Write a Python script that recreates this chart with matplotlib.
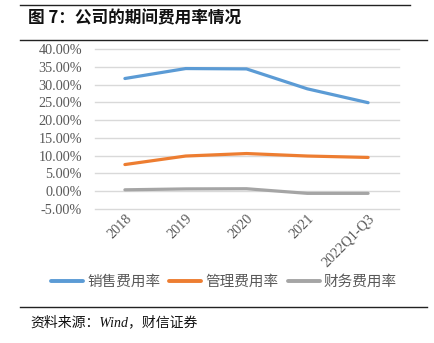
import matplotlib
matplotlib.use("Agg")
import matplotlib.pyplot as plt
from matplotlib.lines import Line2D

categories = ["2018", "2019", "2020", "2021", "2022Q1-Q3"]
sales_rate = [31.7, 34.5, 34.4, 28.8, 24.9]
admin_rate = [7.5, 9.9, 10.6, 9.9, 9.5]
fin_rate = [0.4, 0.65, 0.7, -0.6, -0.6]
series_names = ["销售费用率", "管理费用率", "财务费用率"]
yticks = [-5, 0, 5, 10, 15, 20, 25, 30, 35, 40]
title = "图 7：公司的期间费用率情况"
source = "资料来源：Wind，财信证券"

colors = ["#5B9BD5", "#ED7D31", "#A5A5A5"]
CJK = ["Noto Sans CJK SC", "DejaVu Sans"]

W, H = 434, 343
fig = plt.figure(figsize=(W / 100, H / 100), dpi=100)
fig.patch.set_facecolor("white")

def fx(px):
    return px / W

def fy(py):
    return 1 - py / H

# header lines
fig.add_artist(Line2D([fx(20), fx(410)], [fy(4.5), fy(4.5)], color="#222222", lw=1.0))
fig.add_artist(Line2D([fx(20), fx(427)], [fy(40), fy(40)], color="#222222", lw=1.0))
fig.add_artist(Line2D([fx(20), fx(427)], [fy(307), fy(307)], color="#222222", lw=1.0))

fig.text(fx(28), fy(18), title, family=CJK, fontsize=12, fontweight="bold",
         va="center", ha="left", color="#111111")
fig.text(fx(30), fy(322), source, family=["Liberation Serif", "Noto Sans CJK SC"],
         style="italic", fontsize=10, va="center", ha="left", color="#111111")

left, right, top, bottom = 94.5, 398.5, 49, 209
ax = fig.add_axes([fx(left), fy(bottom), (right - left) / W, (bottom - top) / H])
x = list(range(len(categories)))
for vals, c, name in zip([sales_rate, admin_rate, fin_rate], colors, series_names):
    ax.plot(x, vals, color=c, lw=2.3, solid_capstyle="round", label=name, zorder=3)

ax.set_xlim(-0.5, len(categories) - 0.5)
ax.set_ylim(-5, 40)
ax.set_yticks(yticks)
ax.set_yticklabels([f"{v:.2f}%" for v in yticks], family="Liberation Serif",
                   fontsize=10.3, color="#595959")
ax.set_xticks(x)
ax.set_xticklabels(categories, family="Liberation Serif", fontsize=10.3,
                   color="#595959", rotation=45, ha="right", rotation_mode="anchor")
ax.tick_params(axis="both", length=0)
ax.tick_params(axis="y", pad=9)
ax.tick_params(axis="x", pad=2)
for s in ax.spines.values():
    s.set_visible(False)
ax.grid(axis="y", color="#D9D9D9", lw=1.0)
for gl in ax.get_ygridlines():
    gl.set_clip_on(False)
ax.set_axisbelow(True)

handles = [Line2D([0], [0], color=c, lw=2.8, solid_capstyle="round") for c in colors]
leg = fig.legend(handles, series_names, loc="center", bbox_to_anchor=(fx(224), fy(282)),
                 ncol=3, frameon=False, handlelength=2.2, handletextpad=0.3,
                 columnspacing=0.6, prop={"family": CJK, "size": 10.5})
for t in leg.get_texts():
    t.set_color("#595959")

fig.savefig("out.png", dpi=100, facecolor="white")
